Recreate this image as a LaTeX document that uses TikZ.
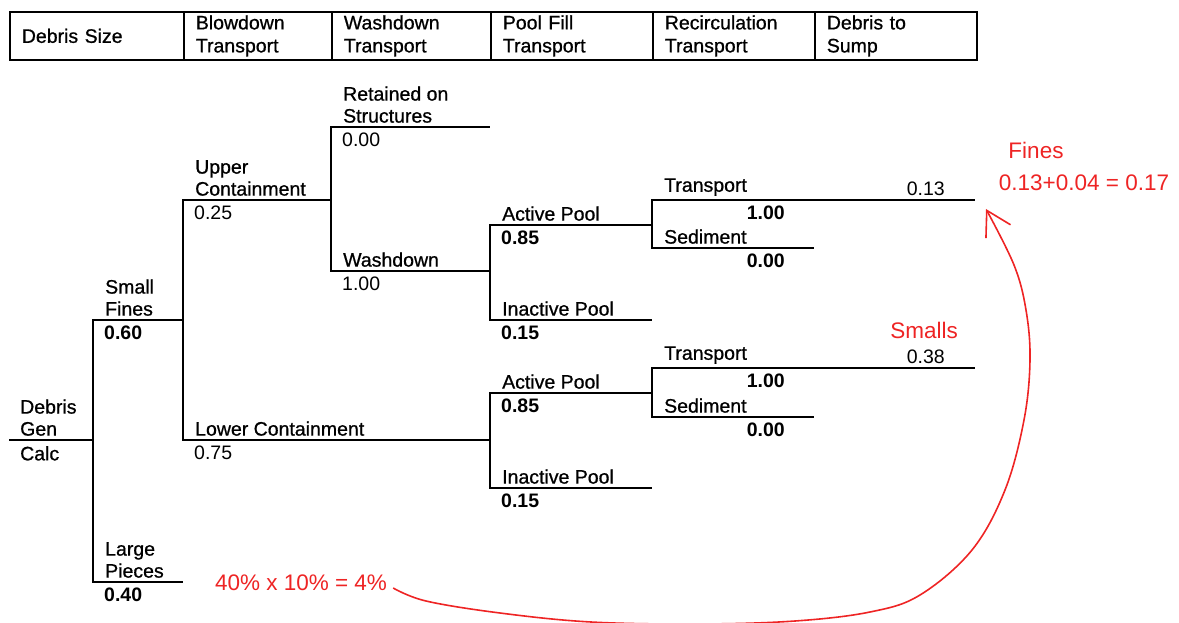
\documentclass[tikz,border=0pt]{standalone}
\usepackage{fontspec}
\setmainfont{Liberation Sans}
\newfontfamily\medfont[FakeBold=0.8]{Liberation Sans}
\usetikzlibrary{arrows.meta}
\usepackage{xcolor}
\definecolor{notered}{HTML}{EE2424}

\begin{document}
\begin{tikzpicture}[x=1pt, y=-1pt,
		branch/.style={line width=1.9pt},
		txt/.style={inner sep=0pt, font=\fontsize{19.5}{22}\selectfont},
		hdr/.style={draw, line width=1.7pt, anchor=north west, minimum height=48pt,
				inner xsep=12pt, inner ysep=0pt, align=left, font=\medfont\fontsize{19.5}{23}\selectfont},
		lbl/.style={txt, anchor=south west, align=left, xshift=12pt, yshift=4pt, font=\medfont\fontsize{19.5}{22}\selectfont},
		val/.style={txt, anchor=north west, xshift=11pt, yshift=-6pt},
		valr/.style={txt, anchor=north east, yshift=-6pt},
		note/.style={text=notered, inner sep=0pt, font=\fontsize{22.5}{26}\selectfont}]
		\useasboundingbox (0,0) rectangle (1179,623);

		% header row
		\foreach \x/\w/\t [count=\i] in {9/174/Debris Size, 183/148/Blowdown\\Transport,
				331/159/Washdown\\Transport, 490/162/Pool Fill\\Transport,
				652/162/Recirculation\\Transport, 814/162/Debris to\\Sump} {
				\pgfmathsetmacro\tw{\w-24}
				\node[hdr, text width=\tw pt] (h\i) at (\x,11) {\t};
			}

		% branch ends of the event tree
		\coordinate (start) at (9,440);
		\coordinate (gen) at (93,440);
		\coordinate (sf) at (183,320);
		\coordinate (lp) at (183,582);
		\coordinate (uc) at (331,200);
		\coordinate (lc) at (490,440);
		\coordinate (rs) at (490,127);
		\coordinate (wd) at (490,271);
		\coordinate (ap1) at (652,225);
		\coordinate (ip1) at (652,320);
		\coordinate (ap2) at (652,393);
		\coordinate (ip2) at (652,488);
		\coordinate (tr1) at (975,200);
		\coordinate (sd1) at (814,248);
		\coordinate (tr2) at (975,368);
		\coordinate (sd2) at (814,417);

		% tree lines
		\draw[branch] (start) -- (gen);
		\foreach \p/\c in {gen/sf, gen/lp, sf/uc, sf/lc, uc/rs, uc/wd, wd/ap1, wd/ip1,
				lc/ap2, lc/ip2, ap1/tr1, ap1/sd1, ap2/tr2, ap2/sd2} {
				\draw[branch] (\p) |- (\c);
			}

		% branch names and fractions
		\node[lbl, xshift=-1pt] (l-gen) at (start) {Debris\\Gen};
		\node[val, font=\medfont\fontsize{19.5}{22}\selectfont] (v-gen) at (start) {Calc};
		\foreach \p/\c/\t/\v in {gen/sf/{Small\\Fines}/{\bfseries 0.60},
				gen/lp/{Large\\Pieces}/{\bfseries 0.40},
				sf/uc/{Upper\\Containment}/{0.25},
				sf/lc/{Lower Containment}/{0.75},
				uc/rs/{Retained on\\Structures}/{0.00},
				uc/wd/{Washdown}/{1.00},
				wd/ap1/{Active Pool}/{\bfseries 0.85},
				wd/ip1/{Inactive Pool}/{\bfseries 0.15},
				lc/ap2/{Active Pool}/{\bfseries 0.85},
				lc/ip2/{Inactive Pool}/{\bfseries 0.15}} {
				\node[lbl] (l-\c) at (\p |- \c) {\t};
				\node[val] (v-\c) at (\p |- \c) {\v};
			}
		\foreach \p/\c/\t/\v in {ap1/tr1/Transport/1.00, ap1/sd1/Sediment/0.00,
				ap2/tr2/Transport/1.00, ap2/sd2/Sediment/0.00} {
				\node[lbl] (l-\c) at (\p |- \c) {\t};
				\node[valr, xshift=133pt] (v-\c) at (\p |- \c) {\bfseries\v};
			}

		% fractions reaching the sump
		\node[txt, anchor=south east, xshift=-30pt, yshift=4pt] (sum1) at (tr1) {0.13};
		\node[txt, anchor=south east, xshift=-30pt, yshift=4pt] (sum2) at (tr2) {0.38};

		% red notes
		\node[note] (smalls) at (924,330) {Smalls};
		\node[note] (fines) at (1036,150) {Fines};
		\node[note] (finesum) at (1084,183) {0.13+0.04 = 0.17};
		\node[note] (large) at (301,583) {40\% x 10\% = 4\%};
		\coordinate (tip) at (986,209);
		\draw[notered, line width=1.6pt, -{Straight Barb[length=24pt, width=28pt]}]
		plot[smooth, tension=0.6] coordinates {([xshift=6pt, yshift=-5pt]large.east)
				(426,601) (500,613) (591,622) (700,624) (795,621) (870,612) (920,595)
				(972,550) (1005,490) (1024,420) (1030,360) (1026,310) (1014,265) (tip)};
	\end{tikzpicture}
\end{document}
